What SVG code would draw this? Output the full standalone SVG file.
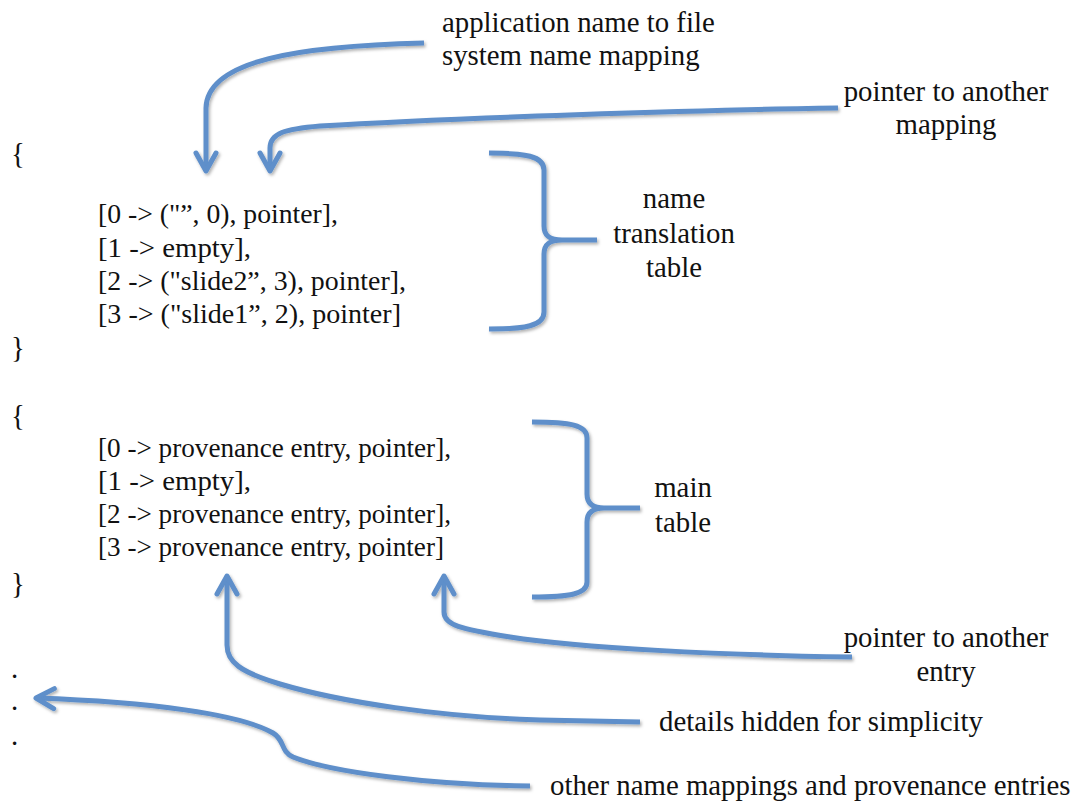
<svg xmlns="http://www.w3.org/2000/svg" width="1079" height="804" viewBox="0 0 1079 804">
<style>
text{font-family:"Liberation Serif","Times New Roman",serif;font-size:28.8px;fill:#111}
.k{font-size:28px}
.c{text-anchor:middle}
.ln{fill:none;stroke:#5e8fca;stroke-width:5;stroke-linecap:butt;stroke-linejoin:round}
</style>
<defs>
<marker id="ah" markerUnits="userSpaceOnUse" markerWidth="40" markerHeight="40" refX="0" refY="0" orient="auto" overflow="visible">
<path d="M -18 -10 L 0 0 L -18 10" fill="none" stroke="#5e8fca" stroke-width="5" stroke-linejoin="round" stroke-linecap="round"/>
</marker>
<filter id="sh" x="-10%" y="-10%" width="120%" height="130%">
<feDropShadow dx="1.5" dy="2" stdDeviation="1.5" flood-color="#000" flood-opacity="0.3"/>
</filter>
</defs>
<rect width="1079" height="804" fill="#fff"/>

<g id="name-table">
<text x="11" y="163">{</text>
<text class="k" x="98" y="223" textLength="240" lengthAdjust="spacingAndGlyphs">[0 -&gt; ("”, 0), pointer],</text>
<text class="k" x="98" y="257" textLength="153" lengthAdjust="spacingAndGlyphs">[1 -&gt; empty],</text>
<text class="k" x="98" y="290" textLength="308" lengthAdjust="spacingAndGlyphs">[2 -&gt; ("slide2”, 3), pointer],</text>
<text class="k" x="98" y="323" textLength="303" lengthAdjust="spacingAndGlyphs">[3 -&gt; ("slide1”, 2), pointer]</text>
<text x="11" y="357">}</text>
</g>

<g id="main-table">
<text x="11" y="425">{</text>
<text class="k" x="98" y="457" textLength="353" lengthAdjust="spacingAndGlyphs">[0 -&gt; provenance entry, pointer],</text>
<text class="k" x="98" y="490" textLength="153" lengthAdjust="spacingAndGlyphs">[1 -&gt; empty],</text>
<text class="k" x="98" y="523" textLength="353" lengthAdjust="spacingAndGlyphs">[2 -&gt; provenance entry, pointer],</text>
<text class="k" x="98" y="556" textLength="346" lengthAdjust="spacingAndGlyphs">[3 -&gt; provenance entry, pointer]</text>
<text x="11" y="593">}</text>
</g>

<g id="ellipsis">
<text x="11" y="678">.</text>
<text x="11" y="710">.</text>
<text x="11" y="745">.</text>
</g>

<g id="label-app-name">
<text x="442" y="32">application name to file</text>
<text x="442" y="65">system name mapping</text>
</g>
<g id="label-pointer-mapping">
<text class="c" x="946" y="101">pointer to another</text>
<text class="c" x="946" y="134">mapping</text>
</g>
<g id="label-name-translation">
<text class="c" x="674" y="208">name</text>
<text class="c" x="674" y="243">translation</text>
<text class="c" x="674" y="277">table</text>
</g>
<g id="label-main-table">
<text class="c" x="683" y="497">main</text>
<text class="c" x="683" y="532">table</text>
</g>
<g id="label-pointer-entry">
<text class="c" x="946" y="647">pointer to another</text>
<text class="c" x="946" y="681">entry</text>
</g>
<g id="label-details">
<text x="659" y="731">details hidden for simplicity</text>
</g>
<g id="label-other">
<text x="550" y="795">other name mappings and provenance entries</text>
</g>

<g id="connectors" filter="url(#sh)">
<path class="ln" marker-end="url(#ah)" d="M 424 43 C 300 46, 207 60, 206 108 L 206 171"/>
<path class="ln" marker-end="url(#ah)" d="M 838 108 C 700 110, 450 118, 320 126 C 285 129, 270 133, 270 148 L 270 171"/>
<path class="ln" d="M 489 153 C 525 153, 544 156, 544 170 L 544 226 C 544 236, 550 240, 562 240 L 597 240 M 562 240 C 550 240, 544 244, 544 254 L 544 312 C 544 326, 525 329, 489 329"/>
<path class="ln" d="M 532 422 C 570 422, 587 425, 587 438 L 587 494 C 587 503, 592 508, 604 508 L 640 508 M 604 508 C 592 508, 587 513, 587 522 L 587 582 C 587 594, 570 597, 532 597"/>
<path class="ln" marker-end="url(#ah)" d="M 852 657 C 720 655, 580 648, 510 637 C 460 629, 444 625, 444 612 L 444 576"/>
<path class="ln" marker-end="url(#ah)" d="M 640 722 L 540 720 C 440 717, 340 702, 280 684 C 240 672, 227 662, 227 645 L 227 576"/>
<path class="ln" marker-end="url(#ah)" d="M 530 786 C 430 785, 330 772, 293 757 C 280 751, 285 740, 273 733 C 240 714, 150 702, 36 698"/>
</g>
</svg>
